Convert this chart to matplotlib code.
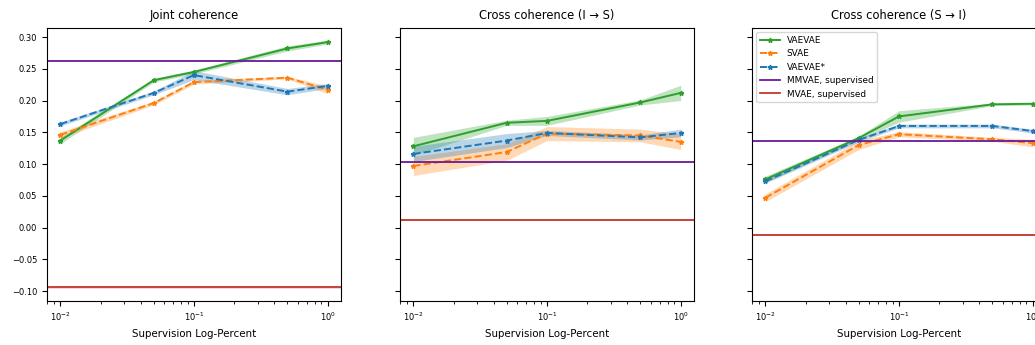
import matplotlib

matplotlib.use("Agg")
import matplotlib.pyplot as plt
import numpy as np

supervision = [0.01, 0.05, 0.1, 0.5, 1.0]
titles = ["Joint coherence", "Cross coherence (I \u2192 S)", "Cross coherence (S \u2192 I)"]

vaevae_mean = [
    [0.137, 0.232, 0.245, 0.282, 0.292],
    [0.128, 0.165, 0.168, 0.197, 0.212],
    [0.076, 0.141, 0.175, 0.194, 0.195],
]
vaevae_std = [
    [0.005, 0.003, 0.003, 0.004, 0.003],
    [0.014, 0.004, 0.007, 0.004, 0.012],
    [0.005, 0.003, 0.009, 0.002, 0.002],
]
svae_mean = [
    [0.146, 0.196, 0.229, 0.236, 0.217],
    [0.097, 0.119, 0.148, 0.145, 0.135],
    [0.047, 0.130, 0.147, 0.139, 0.133],
]
svae_std = [
    [0.005, 0.003, 0.003, 0.002, 0.006],
    [0.015, 0.013, 0.011, 0.010, 0.012],
    [0.006, 0.007, 0.004, 0.003, 0.006],
]
star_mean = [
    [0.163, 0.212, 0.240, 0.214, 0.223],
    [0.116, 0.137, 0.149, 0.142, 0.149],
    [0.073, 0.138, 0.160, 0.160, 0.152],
]
star_std = [
    [0.003, 0.003, 0.007, 0.005, 0.004],
    [0.012, 0.011, 0.004, 0.004, 0.006],
    [0.003, 0.003, 0.003, 0.003, 0.003],
]
mmvae_sup = [0.263, 0.103, 0.136]
mmvae_std = [0.001, 0.001, 0.001]
mvae_sup = [-0.094, 0.012, -0.012]
mvae_std = [0.002, 0.002, 0.002]

plt.rcParams["font.family"] = "DejaVu Sans"

fig = plt.figure(figsize=(10.35, 3.45), dpi=100)
lefts = [0.0454, 0.3865, 0.7266]
axes = []
for left in lefts:
    ax = fig.add_axes([left, 0.1275, 0.284, 0.792], sharey=axes[0] if axes else None)
    axes.append(ax)

x = np.array(supervision)
series = [
    ("VAEVAE", vaevae_mean, vaevae_std, "tab:green", "-"),
    ("SVAE", svae_mean, svae_std, "tab:orange", "--"),
    ("VAEVAE*", star_mean, star_std, "tab:blue", "--"),
]
purple = "#6a1b9a"
red = "#c0392b"

for i, ax in enumerate(axes):
    for label, mean, std, color, ls in series:
        m = np.array(mean[i])
        s = np.array(std[i])
        ax.plot(x, m, ls, color=color, marker="*", markersize=3.5, linewidth=1.4, label=label)
        ax.fill_between(x, m - s, m + s, color=color, alpha=0.3, linewidth=0)
    ax.axhline(mmvae_sup[i], color=purple, linewidth=1.3, label="MMVAE, supervised")
    ax.axhspan(mmvae_sup[i] - mmvae_std[i], mmvae_sup[i] + mmvae_std[i], color=purple, alpha=0.2, linewidth=0)
    ax.axhline(mvae_sup[i], color=red, linewidth=1.3, label="MVAE, supervised")
    ax.axhspan(mvae_sup[i] - mvae_std[i], mvae_sup[i] + mvae_std[i], color=red, alpha=0.2, linewidth=0)
    ax.set_xscale("log")
    ax.set_title(titles[i], fontsize=8.3)
    ax.set_xlabel("Supervision Log-Percent", fontsize=7.4)
    ax.tick_params(labelsize=6)
    if i > 0:
        ax.tick_params(labelleft=False)

axes[0].set_yticks([-0.10, -0.05, 0.0, 0.05, 0.10, 0.15, 0.20, 0.25, 0.30])
axes[2].legend(loc="upper left", fontsize=6.4, handlelength=2.2, labelspacing=0.5)

fig.savefig("out.png", dpi=100)
